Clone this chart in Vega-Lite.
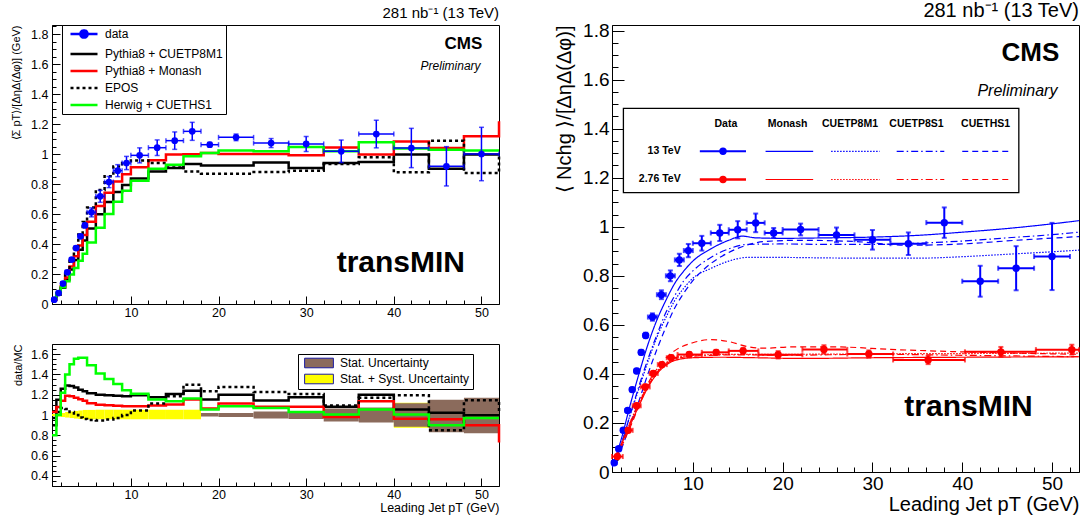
{
  "$schema": "https://vega.github.io/schema/vega-lite/v6.json",
  "padding": {"left": 10, "top": 0, "right": 4, "bottom": 4},
  "config": {
    "font": "Liberation Sans",
    "view": {"stroke": "black", "strokeWidth": 1},
    "axis": {"domainColor": "black", "tickColor": "black", "labelColor": "black", "titleColor": "black", "grid": false, "titleFontWeight": "normal", "labelFont": "Liberation Sans", "titleFont": "Liberation Sans", "labelOverlap": false},
    "title": {"font": "Liberation Sans", "color": "black"},
    "legend": {"labelFont": "Liberation Sans", "labelColor": "black"}
  },
  "datasets": {
    "curves": [
      {"s": "Pythia8 + CUETP8M1", "lo": 1, "v": 0.032}, {"s": "Pythia8 + CUETP8M1", "lo": 1.5, "v": 0.063}, {"s": "Pythia8 + CUETP8M1", "lo": 2, "v": 0.108}, {"s": "Pythia8 + CUETP8M1", "lo": 2.5, "v": 0.164}, {"s": "Pythia8 + CUETP8M1", "lo": 3, "v": 0.23}, {"s": "Pythia8 + CUETP8M1", "lo": 3.5, "v": 0.294}, {"s": "Pythia8 + CUETP8M1", "lo": 4, "v": 0.361}, {"s": "Pythia8 + CUETP8M1", "lo": 4.5, "v": 0.424}, {"s": "Pythia8 + CUETP8M1", "lo": 5, "v": 0.503}, {"s": "Pythia8 + CUETP8M1", "lo": 6, "v": 0.598}, {"s": "Pythia8 + CUETP8M1", "lo": 7, "v": 0.68}, {"s": "Pythia8 + CUETP8M1", "lo": 8, "v": 0.747}, {"s": "Pythia8 + CUETP8M1", "lo": 9, "v": 0.793}, {"s": "Pythia8 + CUETP8M1", "lo": 10, "v": 0.836}, {"s": "Pythia8 + CUETP8M1", "lo": 12, "v": 0.884}, {"s": "Pythia8 + CUETP8M1", "lo": 14, "v": 0.907}, {"s": "Pythia8 + CUETP8M1", "lo": 16, "v": 0.933}, {"s": "Pythia8 + CUETP8M1", "lo": 18, "v": 0.924}, {"s": "Pythia8 + CUETP8M1", "lo": 20, "v": 0.924}, {"s": "Pythia8 + CUETP8M1", "lo": 24, "v": 0.944}, {"s": "Pythia8 + CUETP8M1", "lo": 28, "v": 0.907}, {"s": "Pythia8 + CUETP8M1", "lo": 32, "v": 0.94}, {"s": "Pythia8 + CUETP8M1", "lo": 36, "v": 0.947}, {"s": "Pythia8 + CUETP8M1", "lo": 40, "v": 0.996}, {"s": "Pythia8 + CUETP8M1", "lo": 44, "v": 0.902}, {"s": "Pythia8 + CUETP8M1", "lo": 48, "v": 0.996}, {"s": "Pythia8 + CUETP8M1", "lo": 52, "v": 0.996},
      {"s": "Pythia8 + Monash", "lo": 1, "v": 0.028}, {"s": "Pythia8 + Monash", "lo": 1.5, "v": 0.068}, {"s": "Pythia8 + Monash", "lo": 2, "v": 0.119}, {"s": "Pythia8 + Monash", "lo": 2.5, "v": 0.177}, {"s": "Pythia8 + Monash", "lo": 3, "v": 0.25}, {"s": "Pythia8 + Monash", "lo": 3.5, "v": 0.319}, {"s": "Pythia8 + Monash", "lo": 4, "v": 0.39}, {"s": "Pythia8 + Monash", "lo": 4.5, "v": 0.46}, {"s": "Pythia8 + Monash", "lo": 5, "v": 0.548}, {"s": "Pythia8 + Monash", "lo": 6, "v": 0.653}, {"s": "Pythia8 + Monash", "lo": 7, "v": 0.742}, {"s": "Pythia8 + Monash", "lo": 8, "v": 0.816}, {"s": "Pythia8 + Monash", "lo": 9, "v": 0.865}, {"s": "Pythia8 + Monash", "lo": 10, "v": 0.911}, {"s": "Pythia8 + Monash", "lo": 12, "v": 0.958}, {"s": "Pythia8 + Monash", "lo": 14, "v": 0.996}, {"s": "Pythia8 + Monash", "lo": 16, "v": 0.999}, {"s": "Pythia8 + Monash", "lo": 18, "v": 1.007}, {"s": "Pythia8 + Monash", "lo": 20, "v": 1.0}, {"s": "Pythia8 + Monash", "lo": 24, "v": 1.0}, {"s": "Pythia8 + Monash", "lo": 28, "v": 0.991}, {"s": "Pythia8 + Monash", "lo": 32, "v": 1.044}, {"s": "Pythia8 + Monash", "lo": 36, "v": 0.996}, {"s": "Pythia8 + Monash", "lo": 40, "v": 1.084}, {"s": "Pythia8 + Monash", "lo": 44, "v": 1.04}, {"s": "Pythia8 + Monash", "lo": 48, "v": 1.118}, {"s": "Pythia8 + Monash", "lo": 52, "v": 1.218},
      {"s": "EPOS", "lo": 1, "v": 0.03}, {"s": "EPOS", "lo": 1.5, "v": 0.071}, {"s": "EPOS", "lo": 2, "v": 0.127}, {"s": "EPOS", "lo": 2.5, "v": 0.199}, {"s": "EPOS", "lo": 3, "v": 0.287}, {"s": "EPOS", "lo": 3.5, "v": 0.373}, {"s": "EPOS", "lo": 4, "v": 0.463}, {"s": "EPOS", "lo": 4.5, "v": 0.546}, {"s": "EPOS", "lo": 5, "v": 0.643}, {"s": "EPOS", "lo": 6, "v": 0.76}, {"s": "EPOS", "lo": 7, "v": 0.851}, {"s": "EPOS", "lo": 8, "v": 0.916}, {"s": "EPOS", "lo": 9, "v": 0.94}, {"s": "EPOS", "lo": 10, "v": 0.956}, {"s": "EPOS", "lo": 12, "v": 0.94}, {"s": "EPOS", "lo": 14, "v": 0.924}, {"s": "EPOS", "lo": 16, "v": 0.884}, {"s": "EPOS", "lo": 18, "v": 0.869}, {"s": "EPOS", "lo": 20, "v": 0.869}, {"s": "EPOS", "lo": 24, "v": 0.88}, {"s": "EPOS", "lo": 28, "v": 0.889}, {"s": "EPOS", "lo": 32, "v": 0.933}, {"s": "EPOS", "lo": 36, "v": 0.978}, {"s": "EPOS", "lo": 40, "v": 0.878}, {"s": "EPOS", "lo": 44, "v": 1.089}, {"s": "EPOS", "lo": 48, "v": 0.873}, {"s": "EPOS", "lo": 52, "v": 0.984},
      {"s": "Herwig + CUETHS1", "lo": 1, "v": 0.036}, {"s": "Herwig + CUETHS1", "lo": 1.5, "v": 0.073}, {"s": "Herwig + CUETHS1", "lo": 2, "v": 0.111}, {"s": "Herwig + CUETHS1", "lo": 2.5, "v": 0.151}, {"s": "Herwig + CUETHS1", "lo": 3, "v": 0.197}, {"s": "Herwig + CUETHS1", "lo": 3.5, "v": 0.24}, {"s": "Herwig + CUETHS1", "lo": 4, "v": 0.288}, {"s": "Herwig + CUETHS1", "lo": 4.5, "v": 0.335}, {"s": "Herwig + CUETHS1", "lo": 5, "v": 0.41}, {"s": "Herwig + CUETHS1", "lo": 6, "v": 0.509}, {"s": "Herwig + CUETHS1", "lo": 7, "v": 0.6}, {"s": "Herwig + CUETHS1", "lo": 8, "v": 0.681}, {"s": "Herwig + CUETHS1", "lo": 9, "v": 0.755}, {"s": "Herwig + CUETHS1", "lo": 10, "v": 0.822}, {"s": "Herwig + CUETHS1", "lo": 12, "v": 0.902}, {"s": "Herwig + CUETHS1", "lo": 14, "v": 0.928}, {"s": "Herwig + CUETHS1", "lo": 16, "v": 0.985}, {"s": "Herwig + CUETHS1", "lo": 18, "v": 1.007}, {"s": "Herwig + CUETHS1", "lo": 20, "v": 1.024}, {"s": "Herwig + CUETHS1", "lo": 24, "v": 1.018}, {"s": "Herwig + CUETHS1", "lo": 28, "v": 1.047}, {"s": "Herwig + CUETHS1", "lo": 32, "v": 1.018}, {"s": "Herwig + CUETHS1", "lo": 36, "v": 1.078}, {"s": "Herwig + CUETHS1", "lo": 40, "v": 1.036}, {"s": "Herwig + CUETHS1", "lo": 44, "v": 1.029}, {"s": "Herwig + CUETHS1", "lo": 48, "v": 1.024}, {"s": "Herwig + CUETHS1", "lo": 52, "v": 1.024}
    ],
    "ratio": [
      {"s": "Pythia8 + CUETP8M1", "lo": 1, "r": 0.9}, {"s": "Pythia8 + CUETP8M1", "lo": 1.5, "r": 1.15}, {"s": "Pythia8 + CUETP8M1", "lo": 2, "r": 1.26}, {"s": "Pythia8 + CUETP8M1", "lo": 2.5, "r": 1.29}, {"s": "Pythia8 + CUETP8M1", "lo": 3, "r": 1.285}, {"s": "Pythia8 + CUETP8M1", "lo": 3.5, "r": 1.27}, {"s": "Pythia8 + CUETP8M1", "lo": 4, "r": 1.25}, {"s": "Pythia8 + CUETP8M1", "lo": 4.5, "r": 1.235}, {"s": "Pythia8 + CUETP8M1", "lo": 5, "r": 1.215}, {"s": "Pythia8 + CUETP8M1", "lo": 6, "r": 1.2}, {"s": "Pythia8 + CUETP8M1", "lo": 7, "r": 1.195}, {"s": "Pythia8 + CUETP8M1", "lo": 8, "r": 1.19}, {"s": "Pythia8 + CUETP8M1", "lo": 9, "r": 1.185}, {"s": "Pythia8 + CUETP8M1", "lo": 10, "r": 1.194}, {"s": "Pythia8 + CUETP8M1", "lo": 12, "r": 1.175}, {"s": "Pythia8 + CUETP8M1", "lo": 14, "r": 1.207}, {"s": "Pythia8 + CUETP8M1", "lo": 16, "r": 1.24}, {"s": "Pythia8 + CUETP8M1", "lo": 18, "r": 1.152}, {"s": "Pythia8 + CUETP8M1", "lo": 20, "r": 1.2}, {"s": "Pythia8 + CUETP8M1", "lo": 24, "r": 1.143}, {"s": "Pythia8 + CUETP8M1", "lo": 28, "r": 1.175}, {"s": "Pythia8 + CUETP8M1", "lo": 32, "r": 1.081}, {"s": "Pythia8 + CUETP8M1", "lo": 36, "r": 1.2}, {"s": "Pythia8 + CUETP8M1", "lo": 40, "r": 1.055}, {"s": "Pythia8 + CUETP8M1", "lo": 44, "r": 1.023}, {"s": "Pythia8 + CUETP8M1", "lo": 48, "r": 0.997}, {"s": "Pythia8 + CUETP8M1", "lo": 52, "r": 0.997},
      {"s": "Pythia8 + Monash", "lo": 1, "r": 1.03}, {"s": "Pythia8 + Monash", "lo": 1.5, "r": 1.08}, {"s": "Pythia8 + Monash", "lo": 2, "r": 1.14}, {"s": "Pythia8 + Monash", "lo": 2.5, "r": 1.19}, {"s": "Pythia8 + Monash", "lo": 3, "r": 1.185}, {"s": "Pythia8 + Monash", "lo": 3.5, "r": 1.17}, {"s": "Pythia8 + Monash", "lo": 4, "r": 1.155}, {"s": "Pythia8 + Monash", "lo": 4.5, "r": 1.14}, {"s": "Pythia8 + Monash", "lo": 5, "r": 1.115}, {"s": "Pythia8 + Monash", "lo": 6, "r": 1.1}, {"s": "Pythia8 + Monash", "lo": 7, "r": 1.095}, {"s": "Pythia8 + Monash", "lo": 8, "r": 1.09}, {"s": "Pythia8 + Monash", "lo": 9, "r": 1.087}, {"s": "Pythia8 + Monash", "lo": 10, "r": 1.087}, {"s": "Pythia8 + Monash", "lo": 12, "r": 1.094}, {"s": "Pythia8 + Monash", "lo": 14, "r": 1.104}, {"s": "Pythia8 + Monash", "lo": 16, "r": 1.152}, {"s": "Pythia8 + Monash", "lo": 18, "r": 1.065}, {"s": "Pythia8 + Monash", "lo": 20, "r": 1.113}, {"s": "Pythia8 + Monash", "lo": 24, "r": 1.081}, {"s": "Pythia8 + Monash", "lo": 28, "r": 1.081}, {"s": "Pythia8 + Monash", "lo": 32, "r": 0.98}, {"s": "Pythia8 + Monash", "lo": 36, "r": 1.136}, {"s": "Pythia8 + Monash", "lo": 40, "r": 0.964}, {"s": "Pythia8 + Monash", "lo": 44, "r": 0.958}, {"s": "Pythia8 + Monash", "lo": 48, "r": 0.899}, {"s": "Pythia8 + Monash", "lo": 52, "r": 0.73},
      {"s": "EPOS", "lo": 1, "r": 0.97}, {"s": "EPOS", "lo": 1.5, "r": 1.03}, {"s": "EPOS", "lo": 2, "r": 1.07}, {"s": "EPOS", "lo": 2.5, "r": 1.06}, {"s": "EPOS", "lo": 3, "r": 1.03}, {"s": "EPOS", "lo": 3.5, "r": 1.0}, {"s": "EPOS", "lo": 4, "r": 0.975}, {"s": "EPOS", "lo": 4.5, "r": 0.96}, {"s": "EPOS", "lo": 5, "r": 0.95}, {"s": "EPOS", "lo": 6, "r": 0.945}, {"s": "EPOS", "lo": 7, "r": 0.955}, {"s": "EPOS", "lo": 8, "r": 0.97}, {"s": "EPOS", "lo": 9, "r": 1.0}, {"s": "EPOS", "lo": 10, "r": 1.045}, {"s": "EPOS", "lo": 12, "r": 1.113}, {"s": "EPOS", "lo": 14, "r": 1.185}, {"s": "EPOS", "lo": 16, "r": 1.298}, {"s": "EPOS", "lo": 18, "r": 1.233}, {"s": "EPOS", "lo": 20, "r": 1.276}, {"s": "EPOS", "lo": 24, "r": 1.227}, {"s": "EPOS", "lo": 28, "r": 1.207}, {"s": "EPOS", "lo": 32, "r": 1.094}, {"s": "EPOS", "lo": 36, "r": 1.169}, {"s": "EPOS", "lo": 40, "r": 1.194}, {"s": "EPOS", "lo": 44, "r": 0.85}, {"s": "EPOS", "lo": 48, "r": 1.146}, {"s": "EPOS", "lo": 52, "r": 1.038},
      {"s": "Herwig + CUETHS1", "lo": 1, "r": 0.8}, {"s": "Herwig + CUETHS1", "lo": 1.5, "r": 1.0}, {"s": "Herwig + CUETHS1", "lo": 2, "r": 1.22}, {"s": "Herwig + CUETHS1", "lo": 2.5, "r": 1.4}, {"s": "Herwig + CUETHS1", "lo": 3, "r": 1.5}, {"s": "Herwig + CUETHS1", "lo": 3.5, "r": 1.555}, {"s": "Herwig + CUETHS1", "lo": 4, "r": 1.565}, {"s": "Herwig + CUETHS1", "lo": 4.5, "r": 1.565}, {"s": "Herwig + CUETHS1", "lo": 5, "r": 1.49}, {"s": "Herwig + CUETHS1", "lo": 6, "r": 1.41}, {"s": "Herwig + CUETHS1", "lo": 7, "r": 1.355}, {"s": "Herwig + CUETHS1", "lo": 8, "r": 1.305}, {"s": "Herwig + CUETHS1", "lo": 9, "r": 1.245}, {"s": "Herwig + CUETHS1", "lo": 10, "r": 1.21}, {"s": "Herwig + CUETHS1", "lo": 12, "r": 1.152}, {"s": "Herwig + CUETHS1", "lo": 14, "r": 1.136}, {"s": "Herwig + CUETHS1", "lo": 16, "r": 1.162}, {"s": "Herwig + CUETHS1", "lo": 18, "r": 1.055}, {"s": "Herwig + CUETHS1", "lo": 20, "r": 1.087}, {"s": "Herwig + CUETHS1", "lo": 24, "r": 1.07}, {"s": "Herwig + CUETHS1", "lo": 28, "r": 1.029}, {"s": "Herwig + CUETHS1", "lo": 32, "r": 1.006}, {"s": "Herwig + CUETHS1", "lo": 36, "r": 1.055}, {"s": "Herwig + CUETHS1", "lo": 40, "r": 1.006}, {"s": "Herwig + CUETHS1", "lo": 44, "r": 0.899}, {"s": "Herwig + CUETHS1", "lo": 48, "r": 0.97}, {"s": "Herwig + CUETHS1", "lo": 52, "r": 0.97}
    ],
    "pts": [
      {"x": 1.25, "lo": 1, "hi": 1.5, "y": 0.029, "ylo": 0.025, "yhi": 0.033},
      {"x": 1.75, "lo": 1.5, "hi": 2, "y": 0.073, "ylo": 0.068, "yhi": 0.078},
      {"x": 2.25, "lo": 2, "hi": 2.5, "y": 0.136, "ylo": 0.13, "yhi": 0.142},
      {"x": 2.75, "lo": 2.5, "hi": 3, "y": 0.211, "ylo": 0.204, "yhi": 0.218},
      {"x": 3.25, "lo": 3, "hi": 3.5, "y": 0.296, "ylo": 0.288, "yhi": 0.304},
      {"x": 3.75, "lo": 3.5, "hi": 4, "y": 0.373, "ylo": 0.364, "yhi": 0.382},
      {"x": 4.25, "lo": 4, "hi": 4.5, "y": 0.451, "ylo": 0.44, "yhi": 0.462},
      {"x": 4.75, "lo": 4.5, "hi": 5, "y": 0.524, "ylo": 0.511, "yhi": 0.537},
      {"x": 5.5, "lo": 5, "hi": 6, "y": 0.611, "ylo": 0.581, "yhi": 0.641},
      {"x": 6.5, "lo": 6, "hi": 7, "y": 0.718, "ylo": 0.678, "yhi": 0.758},
      {"x": 7.5, "lo": 7, "hi": 8, "y": 0.813, "ylo": 0.776, "yhi": 0.85},
      {"x": 8.5, "lo": 8, "hi": 9, "y": 0.889, "ylo": 0.849, "yhi": 0.929},
      {"x": 9.5, "lo": 9, "hi": 10, "y": 0.94, "ylo": 0.896, "yhi": 0.984},
      {"x": 11, "lo": 10, "hi": 12, "y": 0.991, "ylo": 0.941, "yhi": 1.041},
      {"x": 13, "lo": 12, "hi": 14, "y": 1.042, "ylo": 0.99, "yhi": 1.094},
      {"x": 15, "lo": 14, "hi": 16, "y": 1.089, "ylo": 1.031, "yhi": 1.147},
      {"x": 17, "lo": 16, "hi": 18, "y": 1.151, "ylo": 1.091, "yhi": 1.211},
      {"x": 19, "lo": 18, "hi": 20, "y": 1.062, "ylo": 1.047, "yhi": 1.077},
      {"x": 22, "lo": 20, "hi": 24, "y": 1.111, "ylo": 1.089, "yhi": 1.133},
      {"x": 26, "lo": 24, "hi": 28, "y": 1.073, "ylo": 1.043, "yhi": 1.103},
      {"x": 30, "lo": 28, "hi": 32, "y": 1.067, "ylo": 1.017, "yhi": 1.117},
      {"x": 34, "lo": 32, "hi": 36, "y": 1.018, "ylo": 0.943, "yhi": 1.093},
      {"x": 38, "lo": 36, "hi": 40, "y": 1.133, "ylo": 1.041, "yhi": 1.225},
      {"x": 42, "lo": 40, "hi": 44, "y": 1.04, "ylo": 0.909, "yhi": 1.171},
      {"x": 46, "lo": 44, "hi": 48, "y": 0.918, "ylo": 0.787, "yhi": 1.049},
      {"x": 50, "lo": 48, "hi": 52, "y": 1.0, "ylo": 0.822, "yhi": 1.178}
    ],
    "bands": [
      {"band": "Stat. + Syst. Uncertainty", "lo": 1, "hi": 1.5, "blo": 0.99, "bhi": 1.01},
      {"band": "Stat. + Syst. Uncertainty", "lo": 1.5, "hi": 2, "blo": 0.985, "bhi": 1.015},
      {"band": "Stat. + Syst. Uncertainty", "lo": 2, "hi": 2.5, "blo": 0.98, "bhi": 1.02},
      {"band": "Stat. + Syst. Uncertainty", "lo": 2.5, "hi": 3, "blo": 0.975, "bhi": 1.03},
      {"band": "Stat. + Syst. Uncertainty", "lo": 3, "hi": 3.5, "blo": 0.97, "bhi": 1.035},
      {"band": "Stat. + Syst. Uncertainty", "lo": 3.5, "hi": 4, "blo": 0.965, "bhi": 1.04},
      {"band": "Stat. + Syst. Uncertainty", "lo": 4, "hi": 4.5, "blo": 0.96, "bhi": 1.045},
      {"band": "Stat. + Syst. Uncertainty", "lo": 4.5, "hi": 5, "blo": 0.958, "bhi": 1.05},
      {"band": "Stat. + Syst. Uncertainty", "lo": 5, "hi": 6, "blo": 0.958, "bhi": 1.05},
      {"band": "Stat. + Syst. Uncertainty", "lo": 6, "hi": 7, "blo": 0.958, "bhi": 1.052},
      {"band": "Stat. + Syst. Uncertainty", "lo": 7, "hi": 8, "blo": 0.958, "bhi": 1.052},
      {"band": "Stat. + Syst. Uncertainty", "lo": 8, "hi": 9, "blo": 0.958, "bhi": 1.052},
      {"band": "Stat. + Syst. Uncertainty", "lo": 9, "hi": 10, "blo": 0.958, "bhi": 1.052},
      {"band": "Stat. + Syst. Uncertainty", "lo": 10, "hi": 12, "blo": 0.958, "bhi": 1.052},
      {"band": "Stat. + Syst. Uncertainty", "lo": 12, "hi": 14, "blo": 0.958, "bhi": 1.052},
      {"band": "Stat. + Syst. Uncertainty", "lo": 14, "hi": 16, "blo": 0.958, "bhi": 1.052},
      {"band": "Stat. + Syst. Uncertainty", "lo": 16, "hi": 18, "blo": 0.958, "bhi": 1.052},
      {"band": "Stat. + Syst. Uncertainty", "lo": 40, "hi": 44, "blo": 0.875, "bhi": 1.12},
      {"band": "Stat. Uncertainty", "lo": 18, "hi": 20, "blo": 0.985, "bhi": 1.02},
      {"band": "Stat. Uncertainty", "lo": 20, "hi": 24, "blo": 0.98, "bhi": 1.02},
      {"band": "Stat. Uncertainty", "lo": 24, "hi": 28, "blo": 0.965, "bhi": 1.035},
      {"band": "Stat. Uncertainty", "lo": 28, "hi": 32, "blo": 0.96, "bhi": 1.04},
      {"band": "Stat. Uncertainty", "lo": 32, "hi": 36, "blo": 0.935, "bhi": 1.065},
      {"band": "Stat. Uncertainty", "lo": 36, "hi": 40, "blo": 0.925, "bhi": 1.075},
      {"band": "Stat. Uncertainty", "lo": 40, "hi": 44, "blo": 0.885, "bhi": 1.115},
      {"band": "Stat. Uncertainty", "lo": 44, "hi": 48, "blo": 0.83, "bhi": 1.15},
      {"band": "Stat. Uncertainty", "lo": 48, "hi": 52, "blo": 0.82, "bhi": 1.17}
    ],
    "nchg": [
      {"e": "13 TeV", "x": 1.25, "lo": 1, "hi": 1.5, "y": 0.038, "ylo": 0.033, "yhi": 0.043},
      {"e": "13 TeV", "x": 1.75, "lo": 1.5, "hi": 2, "y": 0.095, "ylo": 0.09, "yhi": 0.1},
      {"e": "13 TeV", "x": 2.25, "lo": 2, "hi": 2.5, "y": 0.17, "ylo": 0.164, "yhi": 0.176},
      {"e": "13 TeV", "x": 2.75, "lo": 2.5, "hi": 3, "y": 0.251, "ylo": 0.244, "yhi": 0.258},
      {"e": "13 TeV", "x": 3.25, "lo": 3, "hi": 3.5, "y": 0.336, "ylo": 0.328, "yhi": 0.344},
      {"e": "13 TeV", "x": 3.75, "lo": 3.5, "hi": 4, "y": 0.412, "ylo": 0.403, "yhi": 0.421},
      {"e": "13 TeV", "x": 4.25, "lo": 4, "hi": 4.5, "y": 0.488, "ylo": 0.478, "yhi": 0.498},
      {"e": "13 TeV", "x": 4.75, "lo": 4.5, "hi": 5, "y": 0.557, "ylo": 0.546, "yhi": 0.568},
      {"e": "13 TeV", "x": 5.5, "lo": 5, "hi": 6, "y": 0.632, "ylo": 0.617, "yhi": 0.647},
      {"e": "13 TeV", "x": 6.5, "lo": 6, "hi": 7, "y": 0.723, "ylo": 0.705, "yhi": 0.741},
      {"e": "13 TeV", "x": 7.5, "lo": 7, "hi": 8, "y": 0.8, "ylo": 0.778, "yhi": 0.822},
      {"e": "13 TeV", "x": 8.5, "lo": 8, "hi": 9, "y": 0.865, "ylo": 0.84, "yhi": 0.89},
      {"e": "13 TeV", "x": 9.5, "lo": 9, "hi": 10, "y": 0.903, "ylo": 0.876, "yhi": 0.93},
      {"e": "13 TeV", "x": 11, "lo": 10, "hi": 12, "y": 0.933, "ylo": 0.903, "yhi": 0.963},
      {"e": "13 TeV", "x": 13, "lo": 12, "hi": 14, "y": 0.975, "ylo": 0.942, "yhi": 1.008},
      {"e": "13 TeV", "x": 15, "lo": 14, "hi": 16, "y": 0.988, "ylo": 0.953, "yhi": 1.023},
      {"e": "13 TeV", "x": 17, "lo": 16, "hi": 18, "y": 1.016, "ylo": 0.978, "yhi": 1.054},
      {"e": "13 TeV", "x": 19, "lo": 18, "hi": 20, "y": 0.975, "ylo": 0.955, "yhi": 0.995},
      {"e": "13 TeV", "x": 22, "lo": 20, "hi": 24, "y": 0.989, "ylo": 0.965, "yhi": 1.013},
      {"e": "13 TeV", "x": 26, "lo": 24, "hi": 28, "y": 0.967, "ylo": 0.937, "yhi": 0.997},
      {"e": "13 TeV", "x": 30, "lo": 28, "hi": 32, "y": 0.947, "ylo": 0.907, "yhi": 0.987},
      {"e": "13 TeV", "x": 34, "lo": 32, "hi": 36, "y": 0.931, "ylo": 0.885, "yhi": 0.977},
      {"e": "13 TeV", "x": 38, "lo": 36, "hi": 40, "y": 1.017, "ylo": 0.955, "yhi": 1.079},
      {"e": "13 TeV", "x": 42, "lo": 40, "hi": 44, "y": 0.778, "ylo": 0.715, "yhi": 0.841},
      {"e": "13 TeV", "x": 46, "lo": 44, "hi": 48, "y": 0.831, "ylo": 0.741, "yhi": 0.921},
      {"e": "13 TeV", "x": 50, "lo": 48, "hi": 52, "y": 0.879, "ylo": 0.742, "yhi": 1.016},
      {"e": "2.76 TeV", "x": 1.6, "lo": 1, "hi": 2.2, "y": 0.063, "ylo": 0.057, "yhi": 0.069},
      {"e": "2.76 TeV", "x": 2.8, "lo": 2.2, "hi": 3.3, "y": 0.17, "ylo": 0.162, "yhi": 0.178},
      {"e": "2.76 TeV", "x": 3.75, "lo": 3.3, "hi": 4.2, "y": 0.27, "ylo": 0.26, "yhi": 0.28},
      {"e": "2.76 TeV", "x": 4.7, "lo": 4.2, "hi": 5.2, "y": 0.347, "ylo": 0.337, "yhi": 0.357},
      {"e": "2.76 TeV", "x": 5.6, "lo": 5.2, "hi": 6.1, "y": 0.402, "ylo": 0.392, "yhi": 0.412},
      {"e": "2.76 TeV", "x": 6.55, "lo": 6.1, "hi": 7.1, "y": 0.438, "ylo": 0.428, "yhi": 0.448},
      {"e": "2.76 TeV", "x": 7.6, "lo": 7.1, "hi": 8.3, "y": 0.466, "ylo": 0.456, "yhi": 0.476},
      {"e": "2.76 TeV", "x": 9.6, "lo": 8.3, "hi": 11, "y": 0.479, "ylo": 0.469, "yhi": 0.489},
      {"e": "2.76 TeV", "x": 12.6, "lo": 11, "hi": 14, "y": 0.488, "ylo": 0.478, "yhi": 0.498},
      {"e": "2.76 TeV", "x": 15.6, "lo": 14, "hi": 17.3, "y": 0.494, "ylo": 0.482, "yhi": 0.506},
      {"e": "2.76 TeV", "x": 19.5, "lo": 17.3, "hi": 22.2, "y": 0.478, "ylo": 0.463, "yhi": 0.493},
      {"e": "2.76 TeV", "x": 24.6, "lo": 22.2, "hi": 27.2, "y": 0.5, "ylo": 0.483, "yhi": 0.517},
      {"e": "2.76 TeV", "x": 29.6, "lo": 27.2, "hi": 32.3, "y": 0.481, "ylo": 0.466, "yhi": 0.496},
      {"e": "2.76 TeV", "x": 36.2, "lo": 32.3, "hi": 40.3, "y": 0.457, "ylo": 0.44, "yhi": 0.474},
      {"e": "2.76 TeV", "x": 44.3, "lo": 40.3, "hi": 48.2, "y": 0.49, "ylo": 0.47, "yhi": 0.51},
      {"e": "2.76 TeV", "x": 52.2, "lo": 48.2, "hi": 53, "y": 0.499, "ylo": 0.479, "yhi": 0.519}
    ],
    "tunes": [
      {"e": "13 TeV", "t": "Monash", "x": 1, "y": 0.02}, {"e": "13 TeV", "t": "Monash", "x": 2, "y": 0.13}, {"e": "13 TeV", "t": "Monash", "x": 3, "y": 0.27}, {"e": "13 TeV", "t": "Monash", "x": 4, "y": 0.4}, {"e": "13 TeV", "t": "Monash", "x": 5, "y": 0.52}, {"e": "13 TeV", "t": "Monash", "x": 6, "y": 0.62}, {"e": "13 TeV", "t": "Monash", "x": 7, "y": 0.7}, {"e": "13 TeV", "t": "Monash", "x": 8, "y": 0.77}, {"e": "13 TeV", "t": "Monash", "x": 9, "y": 0.82}, {"e": "13 TeV", "t": "Monash", "x": 10, "y": 0.86}, {"e": "13 TeV", "t": "Monash", "x": 12, "y": 0.91}, {"e": "13 TeV", "t": "Monash", "x": 14, "y": 0.945}, {"e": "13 TeV", "t": "Monash", "x": 15.5, "y": 0.962}, {"e": "13 TeV", "t": "Monash", "x": 17, "y": 0.955}, {"e": "13 TeV", "t": "Monash", "x": 20, "y": 0.953}, {"e": "13 TeV", "t": "Monash", "x": 25, "y": 0.955}, {"e": "13 TeV", "t": "Monash", "x": 30, "y": 0.958}, {"e": "13 TeV", "t": "Monash", "x": 35, "y": 0.965}, {"e": "13 TeV", "t": "Monash", "x": 40, "y": 0.978}, {"e": "13 TeV", "t": "Monash", "x": 45, "y": 0.993}, {"e": "13 TeV", "t": "Monash", "x": 50, "y": 1.012}, {"e": "13 TeV", "t": "Monash", "x": 53, "y": 1.025},
      {"e": "13 TeV", "t": "CUETP8M1", "x": 1, "y": 0.02}, {"e": "13 TeV", "t": "CUETP8M1", "x": 2, "y": 0.11}, {"e": "13 TeV", "t": "CUETP8M1", "x": 3, "y": 0.23}, {"e": "13 TeV", "t": "CUETP8M1", "x": 4, "y": 0.34}, {"e": "13 TeV", "t": "CUETP8M1", "x": 5, "y": 0.45}, {"e": "13 TeV", "t": "CUETP8M1", "x": 6, "y": 0.55}, {"e": "13 TeV", "t": "CUETP8M1", "x": 7, "y": 0.63}, {"e": "13 TeV", "t": "CUETP8M1", "x": 8, "y": 0.7}, {"e": "13 TeV", "t": "CUETP8M1", "x": 9, "y": 0.75}, {"e": "13 TeV", "t": "CUETP8M1", "x": 10, "y": 0.79}, {"e": "13 TeV", "t": "CUETP8M1", "x": 12, "y": 0.83}, {"e": "13 TeV", "t": "CUETP8M1", "x": 14, "y": 0.86}, {"e": "13 TeV", "t": "CUETP8M1", "x": 16, "y": 0.875}, {"e": "13 TeV", "t": "CUETP8M1", "x": 20, "y": 0.875}, {"e": "13 TeV", "t": "CUETP8M1", "x": 25, "y": 0.873}, {"e": "13 TeV", "t": "CUETP8M1", "x": 30, "y": 0.872}, {"e": "13 TeV", "t": "CUETP8M1", "x": 35, "y": 0.872}, {"e": "13 TeV", "t": "CUETP8M1", "x": 40, "y": 0.878}, {"e": "13 TeV", "t": "CUETP8M1", "x": 45, "y": 0.888}, {"e": "13 TeV", "t": "CUETP8M1", "x": 50, "y": 0.898}, {"e": "13 TeV", "t": "CUETP8M1", "x": 53, "y": 0.905},
      {"e": "13 TeV", "t": "CUETP8S1", "x": 1, "y": 0.02}, {"e": "13 TeV", "t": "CUETP8S1", "x": 2, "y": 0.11}, {"e": "13 TeV", "t": "CUETP8S1", "x": 3, "y": 0.23}, {"e": "13 TeV", "t": "CUETP8S1", "x": 4, "y": 0.35}, {"e": "13 TeV", "t": "CUETP8S1", "x": 5, "y": 0.46}, {"e": "13 TeV", "t": "CUETP8S1", "x": 6, "y": 0.56}, {"e": "13 TeV", "t": "CUETP8S1", "x": 7, "y": 0.65}, {"e": "13 TeV", "t": "CUETP8S1", "x": 8, "y": 0.72}, {"e": "13 TeV", "t": "CUETP8S1", "x": 9, "y": 0.78}, {"e": "13 TeV", "t": "CUETP8S1", "x": 10, "y": 0.82}, {"e": "13 TeV", "t": "CUETP8S1", "x": 12, "y": 0.875}, {"e": "13 TeV", "t": "CUETP8S1", "x": 14, "y": 0.91}, {"e": "13 TeV", "t": "CUETP8S1", "x": 16, "y": 0.928}, {"e": "13 TeV", "t": "CUETP8S1", "x": 20, "y": 0.93}, {"e": "13 TeV", "t": "CUETP8S1", "x": 25, "y": 0.928}, {"e": "13 TeV", "t": "CUETP8S1", "x": 30, "y": 0.928}, {"e": "13 TeV", "t": "CUETP8S1", "x": 35, "y": 0.933}, {"e": "13 TeV", "t": "CUETP8S1", "x": 40, "y": 0.942}, {"e": "13 TeV", "t": "CUETP8S1", "x": 45, "y": 0.955}, {"e": "13 TeV", "t": "CUETP8S1", "x": 50, "y": 0.968}, {"e": "13 TeV", "t": "CUETP8S1", "x": 53, "y": 0.978},
      {"e": "13 TeV", "t": "CUETHS1", "x": 1, "y": 0.02}, {"e": "13 TeV", "t": "CUETHS1", "x": 2, "y": 0.09}, {"e": "13 TeV", "t": "CUETHS1", "x": 3, "y": 0.19}, {"e": "13 TeV", "t": "CUETHS1", "x": 4, "y": 0.29}, {"e": "13 TeV", "t": "CUETHS1", "x": 5, "y": 0.4}, {"e": "13 TeV", "t": "CUETHS1", "x": 6, "y": 0.5}, {"e": "13 TeV", "t": "CUETHS1", "x": 7, "y": 0.59}, {"e": "13 TeV", "t": "CUETHS1", "x": 8, "y": 0.67}, {"e": "13 TeV", "t": "CUETHS1", "x": 9, "y": 0.73}, {"e": "13 TeV", "t": "CUETHS1", "x": 10, "y": 0.78}, {"e": "13 TeV", "t": "CUETHS1", "x": 12, "y": 0.85}, {"e": "13 TeV", "t": "CUETHS1", "x": 14, "y": 0.895}, {"e": "13 TeV", "t": "CUETHS1", "x": 16, "y": 0.925}, {"e": "13 TeV", "t": "CUETHS1", "x": 18, "y": 0.94}, {"e": "13 TeV", "t": "CUETHS1", "x": 22, "y": 0.945}, {"e": "13 TeV", "t": "CUETHS1", "x": 28, "y": 0.94}, {"e": "13 TeV", "t": "CUETHS1", "x": 34, "y": 0.925}, {"e": "13 TeV", "t": "CUETHS1", "x": 40, "y": 0.93}, {"e": "13 TeV", "t": "CUETHS1", "x": 46, "y": 0.945}, {"e": "13 TeV", "t": "CUETHS1", "x": 53, "y": 0.96},
      {"e": "2.76 TeV", "t": "Monash", "x": 1, "y": 0.03}, {"e": "2.76 TeV", "t": "Monash", "x": 2, "y": 0.11}, {"e": "2.76 TeV", "t": "Monash", "x": 3, "y": 0.19}, {"e": "2.76 TeV", "t": "Monash", "x": 4, "y": 0.27}, {"e": "2.76 TeV", "t": "Monash", "x": 5, "y": 0.345}, {"e": "2.76 TeV", "t": "Monash", "x": 6, "y": 0.4}, {"e": "2.76 TeV", "t": "Monash", "x": 7, "y": 0.435}, {"e": "2.76 TeV", "t": "Monash", "x": 8, "y": 0.455}, {"e": "2.76 TeV", "t": "Monash", "x": 10, "y": 0.466}, {"e": "2.76 TeV", "t": "Monash", "x": 13, "y": 0.468}, {"e": "2.76 TeV", "t": "Monash", "x": 17, "y": 0.466}, {"e": "2.76 TeV", "t": "Monash", "x": 22, "y": 0.463}, {"e": "2.76 TeV", "t": "Monash", "x": 30, "y": 0.466}, {"e": "2.76 TeV", "t": "Monash", "x": 40, "y": 0.468}, {"e": "2.76 TeV", "t": "Monash", "x": 53, "y": 0.47},
      {"e": "2.76 TeV", "t": "CUETP8M1", "x": 1, "y": 0.03}, {"e": "2.76 TeV", "t": "CUETP8M1", "x": 2, "y": 0.11}, {"e": "2.76 TeV", "t": "CUETP8M1", "x": 3, "y": 0.2}, {"e": "2.76 TeV", "t": "CUETP8M1", "x": 4, "y": 0.285}, {"e": "2.76 TeV", "t": "CUETP8M1", "x": 5, "y": 0.355}, {"e": "2.76 TeV", "t": "CUETP8M1", "x": 6, "y": 0.41}, {"e": "2.76 TeV", "t": "CUETP8M1", "x": 7, "y": 0.445}, {"e": "2.76 TeV", "t": "CUETP8M1", "x": 8, "y": 0.465}, {"e": "2.76 TeV", "t": "CUETP8M1", "x": 10, "y": 0.476}, {"e": "2.76 TeV", "t": "CUETP8M1", "x": 15, "y": 0.48}, {"e": "2.76 TeV", "t": "CUETP8M1", "x": 20, "y": 0.48}, {"e": "2.76 TeV", "t": "CUETP8M1", "x": 30, "y": 0.482}, {"e": "2.76 TeV", "t": "CUETP8M1", "x": 40, "y": 0.483}, {"e": "2.76 TeV", "t": "CUETP8M1", "x": 53, "y": 0.485},
      {"e": "2.76 TeV", "t": "CUETP8S1", "x": 1, "y": 0.03}, {"e": "2.76 TeV", "t": "CUETP8S1", "x": 2, "y": 0.11}, {"e": "2.76 TeV", "t": "CUETP8S1", "x": 3, "y": 0.2}, {"e": "2.76 TeV", "t": "CUETP8S1", "x": 4, "y": 0.28}, {"e": "2.76 TeV", "t": "CUETP8S1", "x": 5, "y": 0.35}, {"e": "2.76 TeV", "t": "CUETP8S1", "x": 6, "y": 0.405}, {"e": "2.76 TeV", "t": "CUETP8S1", "x": 7, "y": 0.44}, {"e": "2.76 TeV", "t": "CUETP8S1", "x": 8, "y": 0.46}, {"e": "2.76 TeV", "t": "CUETP8S1", "x": 10, "y": 0.472}, {"e": "2.76 TeV", "t": "CUETP8S1", "x": 15, "y": 0.478}, {"e": "2.76 TeV", "t": "CUETP8S1", "x": 20, "y": 0.476}, {"e": "2.76 TeV", "t": "CUETP8S1", "x": 30, "y": 0.48}, {"e": "2.76 TeV", "t": "CUETP8S1", "x": 40, "y": 0.476}, {"e": "2.76 TeV", "t": "CUETP8S1", "x": 53, "y": 0.47},
      {"e": "2.76 TeV", "t": "CUETHS1", "x": 1, "y": 0.03}, {"e": "2.76 TeV", "t": "CUETHS1", "x": 2, "y": 0.1}, {"e": "2.76 TeV", "t": "CUETHS1", "x": 3, "y": 0.18}, {"e": "2.76 TeV", "t": "CUETHS1", "x": 4, "y": 0.27}, {"e": "2.76 TeV", "t": "CUETHS1", "x": 5, "y": 0.36}, {"e": "2.76 TeV", "t": "CUETHS1", "x": 6, "y": 0.42}, {"e": "2.76 TeV", "t": "CUETHS1", "x": 7, "y": 0.465}, {"e": "2.76 TeV", "t": "CUETHS1", "x": 8, "y": 0.495}, {"e": "2.76 TeV", "t": "CUETHS1", "x": 10, "y": 0.527}, {"e": "2.76 TeV", "t": "CUETHS1", "x": 12, "y": 0.54}, {"e": "2.76 TeV", "t": "CUETHS1", "x": 14, "y": 0.532}, {"e": "2.76 TeV", "t": "CUETHS1", "x": 16, "y": 0.512}, {"e": "2.76 TeV", "t": "CUETHS1", "x": 18, "y": 0.505}, {"e": "2.76 TeV", "t": "CUETHS1", "x": 21, "y": 0.51}, {"e": "2.76 TeV", "t": "CUETHS1", "x": 26, "y": 0.51}, {"e": "2.76 TeV", "t": "CUETHS1", "x": 32, "y": 0.5}, {"e": "2.76 TeV", "t": "CUETHS1", "x": 40, "y": 0.49}, {"e": "2.76 TeV", "t": "CUETHS1", "x": 53, "y": 0.48}
    ]
  },
  "spacing": 49,
  "resolve": {
    "scale": {"color": "independent", "strokeDash": "independent", "fill": "independent"},
    "legend": {"color": "independent", "strokeDash": "independent", "fill": "independent"}
  },
  "hconcat": [
    {
      "bounds": "flush",
      "spacing": 40,
      "resolve": {
        "scale": {"color": "independent", "strokeDash": "independent", "fill": "independent"},
        "legend": {"color": "independent", "strokeDash": "independent", "fill": "independent"}
      },
      "vconcat": [
        {
          "width": 447,
          "height": 279,
          "title": {"text": "281 nb⁻¹ (13 TeV)", "anchor": "end", "frame": "group", "fontSize": 15, "fontWeight": "normal", "offset": 4},
          "resolve": {"axis": {"x": "independent", "y": "independent"}},
          "layer": [
            {
              "data": {"values": [{}]},
              "layer": [
                {
                  "data": {"name": "curves"},
                  "mark": {"type": "line", "interpolate": "step-after", "strokeWidth": 2.5},
                  "encoding": {
                    "x": {"field": "lo", "type": "quantitative", "scale": {"domain": [1, 52], "nice": false, "zero": false}, "axis": null},
                    "y": {"field": "v", "type": "quantitative", "scale": {"domain": [0, 1.86], "nice": false}, "axis": null},
                    "color": {"field": "s", "type": "nominal",
                      "scale": {"domain": ["data", "Pythia8 + CUETP8M1", "Pythia8 + Monash", "EPOS", "Herwig + CUETHS1"], "range": ["#0000ff", "#000000", "#ff0000", "#000000", "#00ff00"]},
                      "legend": {"title": null, "orient": "none", "legendX": 10, "legendY": 0, "strokeColor": "black", "fillColor": "white", "padding": 3, "rowPadding": 5,
                        "labelFontSize": 12, "symbolType": "M-3,0H3", "symbolSize": 81, "symbolStrokeWidth": 2.5, "symbolOffset": 13, "labelOffset": 15,
                        "encode": {"symbols": {"update": {
                          "shape": {"signal": "datum.value === 'data' ? 'M-3,0H3M-0.8,0A0.8,0.8 0 1,0 0.8,0A0.8,0.8 0 1,0 -0.8,0Z' : 'M-3,0H3'"},
                          "fill": {"signal": "datum.value === 'data' ? '#0000ff' : 'transparent'"},
                          "stroke": {"signal": "datum.value === 'data' ? '#0000ff' : datum.value === 'Pythia8 + Monash' ? '#ff0000' : datum.value === 'Herwig + CUETHS1' ? '#00ff00' : '#000000'"},
                          "strokeDash": {"signal": "datum.value === 'EPOS' ? [3, 3] : [1, 0]"},
                          "strokeWidth": {"value": 2.5},
                          "opacity": {"value": 1}}}}}},
                    "strokeDash": {"field": "s", "type": "nominal",
                      "scale": {"domain": ["data", "Pythia8 + CUETP8M1", "Pythia8 + Monash", "EPOS", "Herwig + CUETHS1"], "range": [[1, 0], [1, 0], [1, 0], [3, 3], [1, 0]]},
                      "legend": {"title": null, "orient": "none", "legendX": 10, "legendY": 0, "strokeColor": "black", "fillColor": "white", "padding": 3, "rowPadding": 5,
                        "labelFontSize": 12, "symbolType": "M-3,0H3", "symbolSize": 81, "symbolStrokeWidth": 2.5, "symbolOffset": 13, "labelOffset": 15,
                        "encode": {"symbols": {"update": {
                          "shape": {"signal": "datum.value === 'data' ? 'M-3,0H3M-0.8,0A0.8,0.8 0 1,0 0.8,0A0.8,0.8 0 1,0 -0.8,0Z' : 'M-3,0H3'"},
                          "fill": {"signal": "datum.value === 'data' ? '#0000ff' : 'transparent'"},
                          "stroke": {"signal": "datum.value === 'data' ? '#0000ff' : datum.value === 'Pythia8 + Monash' ? '#ff0000' : datum.value === 'Herwig + CUETHS1' ? '#00ff00' : '#000000'"},
                          "strokeDash": {"signal": "datum.value === 'EPOS' ? [3, 3] : [1, 0]"},
                          "strokeWidth": {"value": 2.5},
                          "opacity": {"value": 1}}}}}}
                  }
                },
                {
                  "data": {"name": "pts"},
                  "mark": {"type": "errorbar", "color": "#0000ff", "thickness": 1.5, "ticks": {"size": 5, "thickness": 1.5}},
                  "encoding": {"x": {"field": "x", "type": "quantitative", "axis": null}, "y": {"field": "ylo", "type": "quantitative", "axis": null}, "y2": {"field": "yhi"}}
                },
                {
                  "data": {"name": "pts"},
                  "mark": {"type": "errorbar", "color": "#0000ff", "thickness": 1.5, "ticks": {"size": 5, "thickness": 1.5}},
                  "encoding": {"y": {"field": "y", "type": "quantitative", "axis": null}, "x": {"field": "lo", "type": "quantitative", "axis": null}, "x2": {"field": "hi"}}
                },
                {
                  "data": {"name": "pts"},
                  "mark": {"type": "point", "filled": true, "size": 45, "color": "#0000ff", "opacity": 1},
                  "encoding": {"x": {"field": "x", "type": "quantitative", "axis": null}, "y": {"field": "y", "type": "quantitative", "axis": null}}
                },
                {
                  "mark": {"type": "text", "fontSize": 17, "fontWeight": "bold", "align": "right", "baseline": "middle", "color": "black"},
                  "encoding": {"x": {"datum": 50.1, "type": "quantitative", "axis": null}, "y": {"datum": 1.735, "type": "quantitative", "axis": null}, "text": {"value": "CMS"}}
                },
                {
                  "mark": {"type": "text", "fontSize": 12, "fontStyle": "italic", "align": "right", "baseline": "middle", "color": "black"},
                  "encoding": {"x": {"datum": 49.9, "type": "quantitative", "axis": null}, "y": {"datum": 1.588, "type": "quantitative", "axis": null}, "text": {"value": "Preliminary"}}
                },
                {
                  "mark": {"type": "text", "fontSize": 30, "fontWeight": "bold", "align": "center", "baseline": "middle", "color": "black"},
                  "encoding": {"x": {"datum": 40.8, "type": "quantitative", "axis": null}, "y": {"datum": 0.275, "type": "quantitative", "axis": null}, "text": {"value": "transMIN"}}
                }
              ]
            },
            {
              "data": {"values": [{}]},
              "mark": {"type": "point", "opacity": 0},
              "encoding": {
                "x": {"datum": 1, "type": "quantitative", "axis": {"orient": "bottom", "values": [10, 20, 30, 40, 50], "title": null, "labelFontSize": 12.5, "tickSize": -8, "labelPadding": 10}},
                "y": {"datum": 0, "type": "quantitative", "axis": {"orient": "left", "values": [0, 0.2, 0.4, 0.6, 0.8, 1, 1.2, 1.4, 1.6, 1.8], "format": "~g", "labelFontSize": 12.5, "tickSize": -8, "labelPadding": 12,
                  "title": "⟨Σ pT⟩/[ΔηΔ(Δφ)] (GeV)", "titleFontSize": 11, "titleAnchor": "end", "titlePadding": 9}}
              }
            },
            {
              "data": {"values": [{}]},
              "mark": {"type": "point", "opacity": 0},
              "encoding": {
                "x": {"datum": 1, "type": "quantitative", "axis": {"orient": "bottom", "values": [2, 4, 6, 8, 12, 14, 16, 18, 22, 24, 26, 28, 32, 34, 36, 38, 42, 44, 46, 48], "labels": false, "domain": false, "tickSize": -4, "title": null}},
                "y": {"datum": 0, "type": "quantitative", "axis": {"orient": "left", "values": [0.05, 0.1, 0.15, 0.25, 0.3, 0.35, 0.45, 0.5, 0.55, 0.65, 0.7, 0.75, 0.85, 0.9, 0.95, 1.05, 1.1, 1.15, 1.25, 1.3, 1.35, 1.45, 1.5, 1.55, 1.65, 1.7, 1.75, 1.85], "labels": false, "domain": false, "tickSize": -4, "title": null}}
              }
            }
          ]
        },
        {
          "width": 447,
          "height": 142,
          "resolve": {"axis": {"x": "independent", "y": "independent"}},
          "layer": [
            {
              "layer": [
                {
                  "data": {"name": "bands"},
                  "mark": {"type": "rect"},
                  "encoding": {
                    "x": {"field": "lo", "type": "quantitative", "scale": {"domain": [1, 52], "nice": false, "zero": false}, "axis": null},
                    "x2": {"field": "hi"},
                    "y": {"field": "blo", "type": "quantitative", "scale": {"domain": [0.3, 1.7], "nice": false, "zero": false}, "axis": null},
                    "y2": {"field": "bhi"},
                    "fill": {"field": "band", "type": "nominal",
                      "scale": {"domain": ["Stat. Uncertainty", "Stat. + Syst. Uncertainty"], "range": ["#8b6b5c", "#ffff00"]},
                      "legend": {"title": null, "orient": "none", "legendX": 246, "legendY": 10, "strokeColor": "black", "fillColor": "white", "padding": 3, "rowPadding": 2,
                        "labelFontSize": 12, "symbolType": "M-3,-1H3V1H-3Z", "symbolSize": 92, "symbolOffset": 12, "labelOffset": 15,
                        "encode": {"symbols": {"update": {"stroke": {"value": "#1a1aa0"}, "strokeWidth": {"value": 1}}}}}}
                  }
                },
                {
                  "data": {"name": "ratio"},
                  "mark": {"type": "line", "interpolate": "step-after", "strokeWidth": 2.5},
                  "encoding": {
                    "x": {"field": "lo", "type": "quantitative", "axis": null},
                    "y": {"field": "r", "type": "quantitative", "axis": null},
                    "color": {"field": "s", "type": "nominal", "legend": null,
                      "scale": {"domain": ["data", "Pythia8 + CUETP8M1", "Pythia8 + Monash", "EPOS", "Herwig + CUETHS1"], "range": ["#0000ff", "#000000", "#ff0000", "#000000", "#00ff00"]}},
                    "strokeDash": {"field": "s", "type": "nominal", "legend": null,
                      "scale": {"domain": ["data", "Pythia8 + CUETP8M1", "Pythia8 + Monash", "EPOS", "Herwig + CUETHS1"], "range": [[1, 0], [1, 0], [1, 0], [3, 3], [1, 0]]}}
                  }
                }
              ]
            },
            {
              "data": {"values": [{}]},
              "mark": {"type": "point", "opacity": 0},
              "encoding": {
                "x": {"datum": 1, "type": "quantitative", "axis": {"orient": "bottom", "values": [10, 20, 30, 40, 50], "labelFontSize": 12.5, "tickSize": -8, "labelPadding": 10,
                  "title": "Leading Jet pT (GeV)", "titleFontSize": 12.5, "titleAnchor": "end", "titlePadding": 1}},
                "y": {"datum": 1, "type": "quantitative", "axis": {"orient": "left", "values": [0.4, 0.6, 0.8, 1, 1.2, 1.4, 1.6], "format": "~g", "labelFontSize": 12.5, "tickSize": -8, "labelPadding": 12,
                  "title": "data/MC", "titleFontSize": 11, "titleAnchor": "end", "titlePadding": 7}}
              }
            },
            {
              "data": {"values": [{}]},
              "mark": {"type": "point", "opacity": 0},
              "encoding": {
                "x": {"datum": 1, "type": "quantitative", "axis": {"orient": "bottom", "values": [2, 4, 6, 8, 12, 14, 16, 18, 22, 24, 26, 28, 32, 34, 36, 38, 42, 44, 46, 48], "labels": false, "domain": false, "tickSize": -4, "title": null}},
                "y": {"datum": 1, "type": "quantitative", "axis": {"orient": "left", "values": [0.35, 0.45, 0.5, 0.55, 0.65, 0.7, 0.75, 0.85, 0.9, 0.95, 1.05, 1.1, 1.15, 1.25, 1.3, 1.35, 1.45, 1.5, 1.55, 1.65], "labels": false, "domain": false, "tickSize": -4, "title": null}}
              }
            }
          ]
        }
      ]
    },
    {
      "width": 467,
      "height": 447,
      "title": {"text": "281 nb⁻¹ (13 TeV)", "anchor": "end", "frame": "group", "fontSize": 20, "fontWeight": "normal", "offset": 1},
      "resolve": {"axis": {"x": "independent", "y": "independent"}},
      "layer": [
        {
          "data": {"values": [{}]},
          "layer": [
            {
              "data": {"name": "tunes"},
              "mark": {"type": "line", "interpolate": "monotone", "strokeWidth": 1.2, "clip": true},
              "encoding": {
                "x": {"field": "x", "type": "quantitative", "scale": {"domain": [1, 53], "nice": false, "zero": false}, "axis": null},
                "y": {"field": "y", "type": "quantitative", "scale": {"domain": [0, 1.823], "nice": false}, "axis": null},
                "color": {"field": "e", "type": "nominal", "legend": null, "scale": {"domain": ["13 TeV", "2.76 TeV"], "range": ["#0000ff", "#ff0000"]}},
                "strokeDash": {"field": "t", "type": "nominal", "legend": null,
                  "scale": {"domain": ["Monash", "CUETP8M1", "CUETP8S1", "CUETHS1"], "range": [[1, 0], [1.5, 1.5], [7, 3, 1.5, 3], [6, 4]]}}
              }
            },
            {
              "data": {"name": "nchg"},
              "mark": {"type": "errorbar", "thickness": 2, "ticks": {"size": 5, "thickness": 2}},
              "encoding": {"x": {"field": "x", "type": "quantitative", "axis": null}, "y": {"field": "ylo", "type": "quantitative", "axis": null}, "y2": {"field": "yhi"},
                "color": {"field": "e", "type": "nominal", "legend": null}}
            },
            {
              "data": {"name": "nchg"},
              "mark": {"type": "errorbar", "thickness": 2, "ticks": {"size": 5, "thickness": 2}},
              "encoding": {"y": {"field": "y", "type": "quantitative", "axis": null}, "x": {"field": "lo", "type": "quantitative", "axis": null}, "x2": {"field": "hi"},
                "color": {"field": "e", "type": "nominal", "legend": null}}
            },
            {
              "data": {"name": "nchg"},
              "mark": {"type": "point", "filled": true, "size": 55, "opacity": 1},
              "encoding": {"x": {"field": "x", "type": "quantitative", "axis": null}, "y": {"field": "y", "type": "quantitative", "axis": null},
                "color": {"field": "e", "type": "nominal", "legend": null}}
            },
            {
              "mark": {"type": "rect", "fill": "white", "stroke": "black", "strokeWidth": 1.3},
              "encoding": {"x": {"datum": 2.27, "type": "quantitative", "axis": null}, "x2": {"datum": 46.3}, "y": {"datum": 1.139, "type": "quantitative", "axis": null}, "y2": {"datum": 1.483}}
            },
            {
              "mark": {"type": "text", "fontSize": 10.5, "fontWeight": "bold", "align": "center", "baseline": "middle", "color": "black"},
              "encoding": {"x": {"datum": 13.68, "type": "quantitative", "axis": null}, "y": {"datum": 1.42, "type": "quantitative", "axis": null}, "text": {"value": "Data"}}
            },
            {
              "mark": {"type": "text", "fontSize": 10.5, "fontWeight": "bold", "align": "center", "baseline": "middle", "color": "black"},
              "encoding": {"x": {"datum": 20.55, "type": "quantitative", "axis": null}, "y": {"datum": 1.42, "type": "quantitative", "axis": null}, "text": {"value": "Monash"}}
            },
            {
              "mark": {"type": "text", "fontSize": 10.5, "fontWeight": "bold", "align": "center", "baseline": "middle", "color": "black"},
              "encoding": {"x": {"datum": 27.5, "type": "quantitative", "axis": null}, "y": {"datum": 1.42, "type": "quantitative", "axis": null}, "text": {"value": "CUETP8M1"}}
            },
            {
              "mark": {"type": "text", "fontSize": 10.5, "fontWeight": "bold", "align": "center", "baseline": "middle", "color": "black"},
              "encoding": {"x": {"datum": 34.9, "type": "quantitative", "axis": null}, "y": {"datum": 1.42, "type": "quantitative", "axis": null}, "text": {"value": "CUETP8S1"}}
            },
            {
              "mark": {"type": "text", "fontSize": 10.5, "fontWeight": "bold", "align": "center", "baseline": "middle", "color": "black"},
              "encoding": {"x": {"datum": 42.6, "type": "quantitative", "axis": null}, "y": {"datum": 1.42, "type": "quantitative", "axis": null}, "text": {"value": "CUETHS1"}}
            },
            {
              "mark": {"type": "text", "fontSize": 10.5, "fontWeight": "bold", "align": "right", "baseline": "middle", "color": "black"},
              "encoding": {"x": {"datum": 8.65, "type": "quantitative", "axis": null}, "y": {"datum": 1.308, "type": "quantitative", "axis": null}, "text": {"value": "13 TeV"}}
            },
            {
              "mark": {"type": "text", "fontSize": 10.5, "fontWeight": "bold", "align": "right", "baseline": "middle", "color": "black"},
              "encoding": {"x": {"datum": 8.65, "type": "quantitative", "axis": null}, "y": {"datum": 1.193, "type": "quantitative", "axis": null}, "text": {"value": "2.76 TeV"}}
            },
            {
              "mark": {"type": "rule", "color": "#0000ff", "strokeWidth": 2},
              "encoding": {"x": {"datum": 10.78, "type": "quantitative", "axis": null}, "x2": {"datum": 15.92}, "y": {"datum": 1.308, "type": "quantitative", "axis": null}}
            },
            {
              "mark": {"type": "point", "filled": true, "size": 55, "color": "#0000ff", "opacity": 1},
              "encoding": {"x": {"datum": 13.36, "type": "quantitative", "axis": null}, "y": {"datum": 1.308, "type": "quantitative", "axis": null}}
            },
            {
              "mark": {"type": "rule", "color": "#ff0000", "strokeWidth": 2.5},
              "encoding": {"x": {"datum": 10.78, "type": "quantitative", "axis": null}, "x2": {"datum": 15.92}, "y": {"datum": 1.193, "type": "quantitative", "axis": null}}
            },
            {
              "mark": {"type": "point", "filled": true, "size": 55, "color": "#ff0000", "opacity": 1},
              "encoding": {"x": {"datum": 13.36, "type": "quantitative", "axis": null}, "y": {"datum": 1.193, "type": "quantitative", "axis": null}}
            },
            {
              "mark": {"type": "rule", "color": "#0000ff", "strokeWidth": 1.2},
              "encoding": {"x": {"datum": 18.1, "type": "quantitative", "axis": null}, "x2": {"datum": 23.4}, "y": {"datum": 1.308, "type": "quantitative", "axis": null}}
            },
            {
              "mark": {"type": "rule", "color": "#0000ff", "strokeWidth": 1.2, "strokeDash": [1.5, 1.5]},
              "encoding": {"x": {"datum": 25.4, "type": "quantitative", "axis": null}, "x2": {"datum": 30.8}, "y": {"datum": 1.308, "type": "quantitative", "axis": null}}
            },
            {
              "mark": {"type": "rule", "color": "#0000ff", "strokeWidth": 1.2, "strokeDash": [7, 3, 1.5, 3]},
              "encoding": {"x": {"datum": 32.7, "type": "quantitative", "axis": null}, "x2": {"datum": 38.0}, "y": {"datum": 1.308, "type": "quantitative", "axis": null}}
            },
            {
              "mark": {"type": "rule", "color": "#0000ff", "strokeWidth": 1.2, "strokeDash": [6, 4]},
              "encoding": {"x": {"datum": 40.0, "type": "quantitative", "axis": null}, "x2": {"datum": 45.3}, "y": {"datum": 1.308, "type": "quantitative", "axis": null}}
            },
            {
              "mark": {"type": "rule", "color": "#ff0000", "strokeWidth": 1.2},
              "encoding": {"x": {"datum": 18.1, "type": "quantitative", "axis": null}, "x2": {"datum": 23.4}, "y": {"datum": 1.193, "type": "quantitative", "axis": null}}
            },
            {
              "mark": {"type": "rule", "color": "#ff0000", "strokeWidth": 1.2, "strokeDash": [1.5, 1.5]},
              "encoding": {"x": {"datum": 25.4, "type": "quantitative", "axis": null}, "x2": {"datum": 30.8}, "y": {"datum": 1.193, "type": "quantitative", "axis": null}}
            },
            {
              "mark": {"type": "rule", "color": "#ff0000", "strokeWidth": 1.2, "strokeDash": [7, 3, 1.5, 3]},
              "encoding": {"x": {"datum": 32.7, "type": "quantitative", "axis": null}, "x2": {"datum": 38.0}, "y": {"datum": 1.193, "type": "quantitative", "axis": null}}
            },
            {
              "mark": {"type": "rule", "color": "#ff0000", "strokeWidth": 1.2, "strokeDash": [6, 4]},
              "encoding": {"x": {"datum": 40.0, "type": "quantitative", "axis": null}, "x2": {"datum": 45.3}, "y": {"datum": 1.193, "type": "quantitative", "axis": null}}
            },
            {
              "mark": {"type": "text", "fontSize": 26, "fontWeight": "bold", "align": "right", "baseline": "middle", "color": "black"},
              "encoding": {"x": {"datum": 50.8, "type": "quantitative", "axis": null}, "y": {"datum": 1.71, "type": "quantitative", "axis": null}, "text": {"value": "CMS"}}
            },
            {
              "mark": {"type": "text", "fontSize": 16, "fontStyle": "italic", "align": "right", "baseline": "middle", "color": "black"},
              "encoding": {"x": {"datum": 50.6, "type": "quantitative", "axis": null}, "y": {"datum": 1.555, "type": "quantitative", "axis": null}, "text": {"value": "Preliminary"}}
            },
            {
              "mark": {"type": "text", "fontSize": 30, "fontWeight": "bold", "align": "center", "baseline": "middle", "color": "black"},
              "encoding": {"x": {"datum": 40.7, "type": "quantitative", "axis": null}, "y": {"datum": 0.265, "type": "quantitative", "axis": null}, "text": {"value": "transMIN"}}
            }
          ]
        },
        {
          "data": {"values": [{}]},
          "mark": {"type": "point", "opacity": 0},
          "encoding": {
            "x": {"datum": 1, "type": "quantitative", "axis": {"orient": "bottom", "values": [10, 20, 30, 40, 50], "labelFontSize": 19, "tickSize": -10, "labelPadding": 12,
              "title": "Leading Jet pT (GeV)", "titleFontSize": 20, "titleAnchor": "end", "titlePadding": 1}},
            "y": {"datum": 0, "type": "quantitative", "axis": {"orient": "left", "values": [0, 0.2, 0.4, 0.6, 0.8, 1, 1.2, 1.4, 1.6, 1.8], "format": "~g", "labelFontSize": 19, "tickSize": -12, "labelPadding": 15,
              "title": "⟨ Nchg ⟩/[ΔηΔ(Δφ)]", "titleFontSize": 20, "titleAnchor": "end", "titlePadding": 8}}
          }
        },
        {
          "data": {"values": [{}]},
          "mark": {"type": "point", "opacity": 0},
          "encoding": {
            "x": {"datum": 1, "type": "quantitative", "axis": {"orient": "bottom", "values": [2, 4, 6, 8, 12, 14, 16, 18, 22, 24, 26, 28, 32, 34, 36, 38, 42, 44, 46, 48, 52], "labels": false, "domain": false, "tickSize": -5, "title": null}},
            "y": {"datum": 0, "type": "quantitative", "axis": {"orient": "left", "values": [0.05, 0.1, 0.15, 0.25, 0.3, 0.35, 0.45, 0.5, 0.55, 0.65, 0.7, 0.75, 0.85, 0.9, 0.95, 1.05, 1.1, 1.15, 1.25, 1.3, 1.35, 1.45, 1.5, 1.55, 1.65, 1.7, 1.75], "labels": false, "domain": false, "tickSize": -6, "title": null}}
          }
        }
      ]
    }
  ]
}
